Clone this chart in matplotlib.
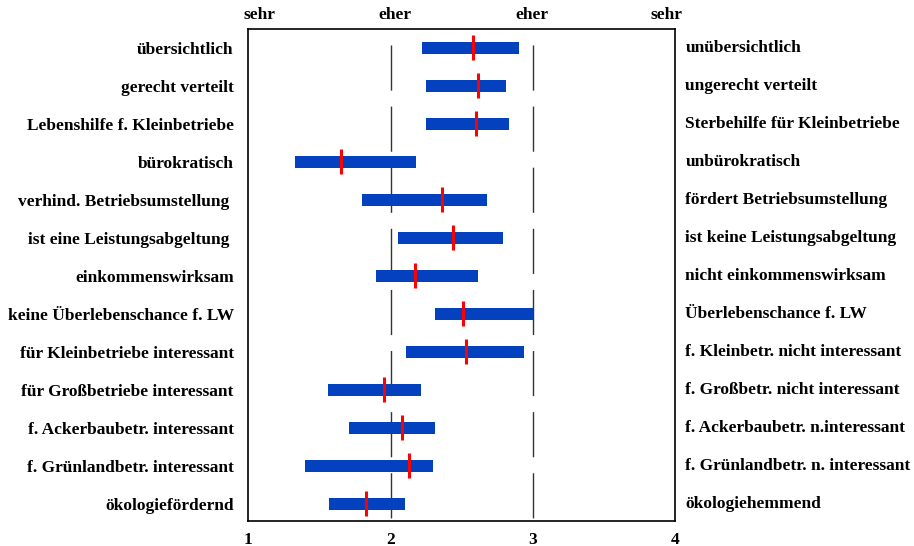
import numpy as np
import matplotlib.pyplot as plt

# Polaritätsprofil: Spannweite (blau) und Mittelwert (rot) je Item
left_labels = ['übersichtlich', 'gerecht verteilt', 'Lebenshilfe f. Kleinbetriebe',
               'bürokratisch', 'verhind. Betriebsumstellung ', 'ist eine Leistungsabgeltung ',
               'einkommenswirksam', 'keine Überlebenschance f. LW',
               'für Kleinbetriebe interessant', 'für Großbetriebe interessant',
               'f. Ackerbaubetr. interessant', 'f. Grünlandbetr. interessant',
               'ökologiefördernd']
right_labels = ['unübersichtlich', 'ungerecht verteilt', 'Sterbehilfe für Kleinbetriebe',
                'unbürokratisch', 'fördert Betriebsumstellung', 'ist keine Leistungsabgeltung',
                'nicht einkommenswirksam', 'Überlebenschance f. LW',
                'f. Kleinbetr. nicht interessant', 'f. Großbetr. nicht interessant',
                'f. Ackerbaubetr. n.interessant', 'f. Grünlandbetr. n. interessant',
                'ökologiehemmend']
bar_start = [2.22, 2.25, 2.25, 1.33, 1.80, 2.05, 1.90, 2.31, 2.11, 1.56, 1.71, 1.40, 1.57]
bar_end = [2.90, 2.81, 2.83, 2.18, 2.68, 2.79, 2.61, 3.00, 2.94, 2.21, 2.31, 2.30, 2.10]
means = [2.58, 2.61, 2.60, 1.65, 2.36, 2.44, 2.17, 2.51, 2.53, 1.95, 2.08, 2.13, 1.83]
scale_ticks = [1, 2, 3, 4]
scale_words = ['sehr', 'eher', 'eher', 'sehr']

plt.rcParams['font.family'] = 'Liberation Serif'
plt.rcParams['font.weight'] = 'bold'
fs = 12.5

fig = plt.figure(figsize=(9.14, 5.46), dpi=100)
ax = fig.add_axes([0.2717, 0.0463, 0.4672, 0.9005])

y = np.arange(len(left_labels))
start = np.array(bar_start)
ax.barh(y, np.array(bar_end) - start, left=start, height=0.32, color='#0341bf', zorder=3)
ax.vlines(means, y - 0.33, y + 0.33, color='#ff0000', linewidth=2.2, zorder=4)

# gestrichelte Hilfslinien bei 2 und 3
for xv in [2, 3]:
    ax.plot([xv, xv], [-0.49, 12.45], color='#333333', linewidth=1.0, zorder=1,
            linestyle=(32.5, (32.5, 11.5)))

ax.set_xlim(1, 4)
ax.set_ylim(12.45, -0.49)
ax.set_xticks(scale_ticks)
ax.set_xticklabels([str(t) for t in scale_ticks], fontsize=fs, fontweight='bold')
ax.tick_params(axis='x', length=0, pad=8)
ax.set_yticks(y)
ax.set_yticklabels(left_labels, fontsize=fs, fontweight='bold')
ax.tick_params(axis='y', length=0, pad=10.5)
for s in ax.spines.values():
    s.set_linewidth(1.2)

for i, lab in enumerate(right_labels):
    ax.text(1.0 + 10 / 427, i, lab, transform=ax.get_yaxis_transform(),
            ha='left', va='center', fontsize=fs, fontweight='bold')

word_x = [1.08, 2.03, 2.99, 3.94]
for xw, w in zip(word_x, scale_words):
    ax.text(xw, 1.0 + 14 / 491, w, transform=ax.get_xaxis_transform(),
            ha='center', va='center', fontsize=fs, fontweight='bold')

fig.savefig('out.png', dpi=100)
